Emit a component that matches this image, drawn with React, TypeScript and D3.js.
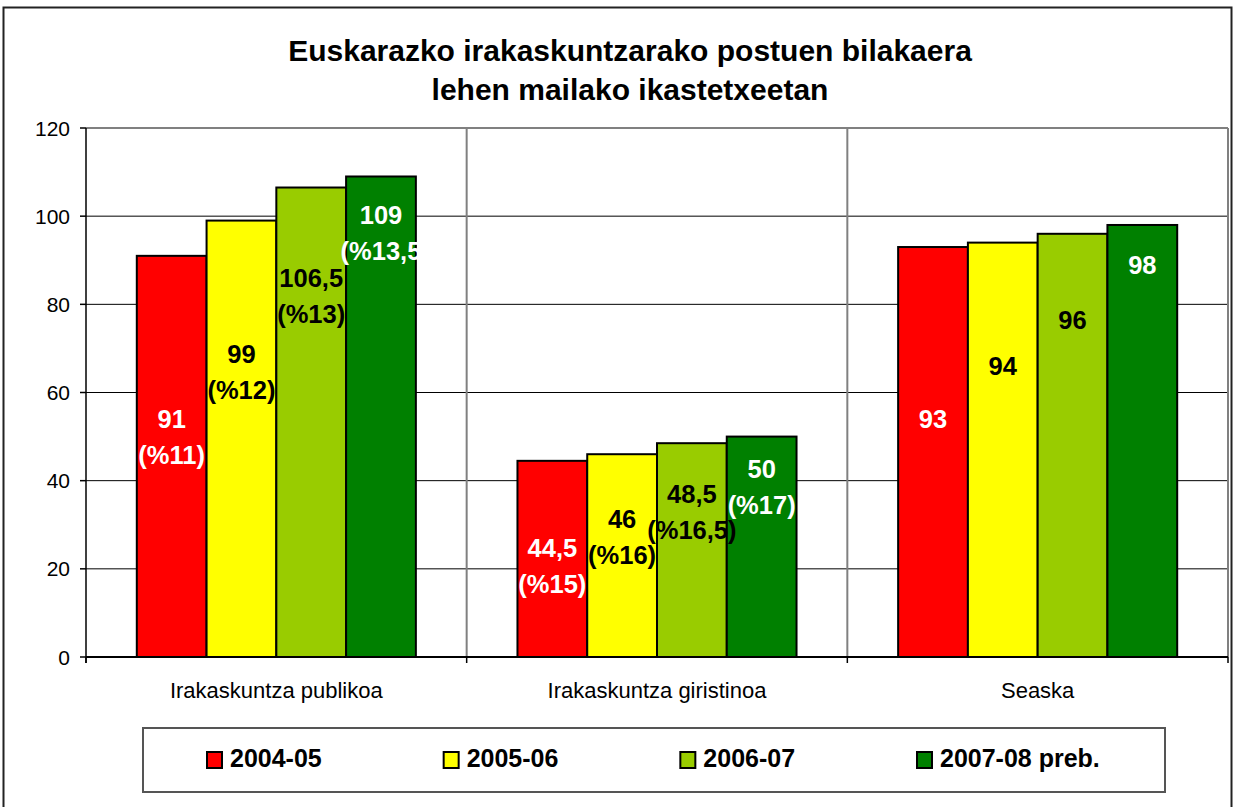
import React from "react";
import * as d3 from "d3";

const categories = ["Irakaskuntza publikoa", "Irakaskuntza giristinoa", "Seaska"];
const seriesNames = ["2004-05", "2005-06", "2006-07", "2007-08 preb."];
const seriesColors = ["#FF0000", "#FFFF00", "#99CC00", "#008000"];
const labelColors = ["#FFFFFF", "#000000", "#000000", "#FFFFFF"];

// values[series][category]
const values2004 = [91, 44.5, 93];
const values2005 = [99, 46, 94];
const values2006 = [106.5, 48.5, 96];
const values2007 = [109, 50, 98];
const values = [values2004, values2005, values2006, values2007];

// data labels (two lines) per series per category
const labels2004 = [["91", "(%11)"], ["44,5", "(%15)"], ["93"]];
const labels2005 = [["99", "(%12)"], ["46", "(%16)"], ["94"]];
const labels2006 = [["106,5", "(%13)"], ["48,5", "(%16,5)"], ["96"]];
const labels2007 = [["109", "(%13,5"], ["50", "(%17)"], ["98"]];
const labels = [labels2004, labels2005, labels2006, labels2007];

// value at which the first label line sits (labels were placed by hand in the original)
const labelAt2004 = [52, 22.7, 52];
const labelAt2005 = [66.8, 29.3, 64];
const labelAt2006 = [83.9, 35, 74.5];
const labelAt2007 = [98.2, 40.7, 86.8];
const labelAt = [labelAt2004, labelAt2005, labelAt2006, labelAt2007];

const yTicks = [0, 20, 40, 60, 80, 100, 120];

const titleLines = ["Euskarazko irakaskuntzarako postuen bilakaera", "lehen mailako ikastetxeetan"];

const FONT = "'Liberation Sans', Arial, sans-serif";

export default function App() {
  const W = 1235;
  const H = 807;
  const plot = { left: 86, right: 1228, top: 128, bottom: 657 };

  const x0 = d3.scaleBand<string>().domain(categories).range([plot.left, plot.right]).paddingInner(0).paddingOuter(0);
  const groupPad = 50.8;
  const x1 = d3
    .scaleBand<number>()
    .domain(d3.range(seriesNames.length))
    .range([groupPad, x0.bandwidth() - groupPad])
    .padding(0);
  const y = d3.scaleLinear().domain([0, 120]).range([plot.bottom, plot.top]);

  const legendX = d3.scaleLinear().domain([0, seriesNames.length - 1]).range([207, 917]);

  return (
    <div style={{ position: "fixed", left: 0, top: 0, width: W, height: H, background: "#fff" }}>
      <svg width={W} height={H} style={{ display: "block", fontFamily: FONT }}>
        <rect x={0} y={0} width={W} height={H} fill="#fff" />
        {/* outer chart border */}
        <rect x={3.5} y={7.5} width={1228} height={830} fill="none" stroke="#222" strokeWidth={2} />

        {/* title */}
        {titleLines.map((t, i) => (
          <text
            key={i}
            x={630}
            y={61 + i * 39}
            textAnchor="middle"
            fontSize={30}
            fontWeight="bold"
            fill="#000"
          >
            {t}
          </text>
        ))}

        {/* horizontal gridlines */}
        {yTicks
          .filter((t) => t > 0 && t < 120)
          .map((t) => (
            <line key={t} x1={plot.left} x2={plot.right} y1={y(t)} y2={y(t)} stroke="#000" strokeWidth={1} />
          ))}
        {/* plot area border top/right */}
        <line x1={plot.left} x2={plot.right} y1={y(120)} y2={y(120)} stroke="#808080" strokeWidth={2} />
        <line x1={plot.right} x2={plot.right} y1={plot.top} y2={plot.bottom} stroke="#808080" strokeWidth={2} />
        {/* vertical category separators */}
        {categories.slice(1).map((c) => (
          <line key={c} x1={x0(c)!} x2={x0(c)!} y1={plot.top} y2={plot.bottom} stroke="#808080" strokeWidth={2} />
        ))}

        {/* bars */}
        {values.map((ser, si) =>
          ser.map((v, ci) => {
            const bx = x0(categories[ci])! + x1(si)!;
            return (
              <rect
                key={`${si}-${ci}`}
                x={bx}
                y={y(v)}
                width={x1.bandwidth()}
                height={y(0) - y(v)}
                fill={seriesColors[si]}
                stroke="#000"
                strokeWidth={2}
              />
            );
          })
        )}

        {/* y axis */}
        <line x1={plot.left} x2={plot.left} y1={plot.top} y2={plot.bottom + 6} stroke="#000" strokeWidth={1.5} />
        {yTicks.map((t) => (
          <g key={t}>
            <line x1={plot.left - 6} x2={plot.left} y1={y(t)} y2={y(t)} stroke="#000" strokeWidth={1.5} />
            <text x={plot.left - 16} y={y(t) + 7.5} textAnchor="end" fontSize={21} fill="#000">
              {t}
            </text>
          </g>
        ))}

        {/* x axis */}
        <line x1={plot.left} x2={plot.right} y1={plot.bottom} y2={plot.bottom} stroke="#000" strokeWidth={2} />
        {categories.map((c) => (
          <line key={c} x1={x0(c)!} x2={x0(c)!} y1={plot.bottom} y2={plot.bottom + 6} stroke="#000" strokeWidth={1.5} />
        ))}
        <line x1={plot.right} x2={plot.right} y1={plot.bottom} y2={plot.bottom + 6} stroke="#000" strokeWidth={1.5} />
        {categories.map((c) => (
          <text key={c} x={x0(c)! + x0.bandwidth() / 2} y={698} textAnchor="middle" fontSize={22} fill="#000">
            {c}
          </text>
        ))}

        {/* data labels */}
        {labels.map((ser, si) =>
          ser.map((lines, ci) => {
            const cx = x0(categories[ci])! + x1(si)! + x1.bandwidth() / 2;
            const by = y(labelAt[si][ci]);
            return (
              <text
                key={`l-${si}-${ci}`}
                x={cx}
                y={by}
                textAnchor="middle"
                fontSize={25.5}
                fontWeight="bold"
                fill={labelColors[si]}
              >
                {lines.map((ln, li) => (
                  <tspan key={li} x={cx} y={by + li * 36}>
                    {ln}
                  </tspan>
                ))}
              </text>
            );
          })
        )}

        {/* legend */}
        <rect x={143} y={728} width={1022} height={64} fill="#fff" stroke="#555" strokeWidth={2} />
        {seriesNames.map((s, i) => (
          <g key={s}>
            <rect x={legendX(i)} y={752} width={15} height={16} fill={seriesColors[i]} stroke="#000" strokeWidth={2} />
            <text x={legendX(i) + 23} y={767} fontSize={25} fontWeight="bold" fill="#000">
              {s}
            </text>
          </g>
        ))}
      </svg>
    </div>
  );
}
